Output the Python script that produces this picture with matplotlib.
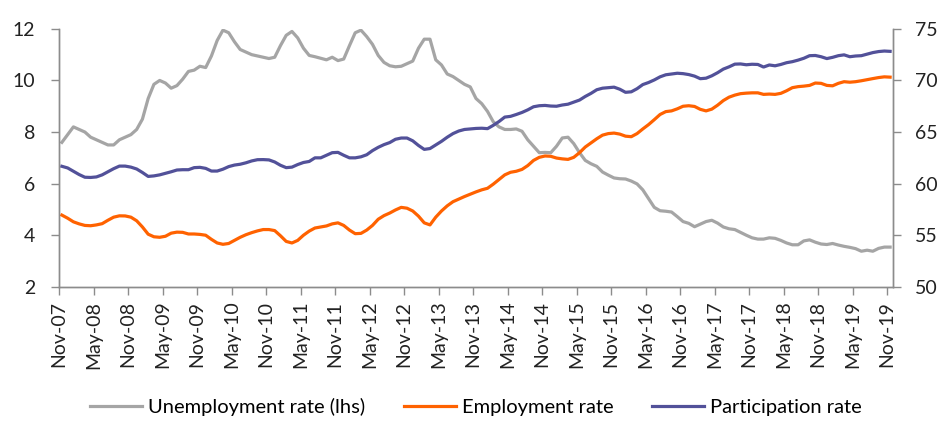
import matplotlib
matplotlib.use("Agg")
import matplotlib.pyplot as plt
import numpy as np

plt.rcParams['font.family'] = ['Lato', 'DejaVu Sans']

# monthly data, Nov-07 .. Nov-19
tick_labels = ["Nov-07", "May-08", "Nov-08", "May-09", "Nov-09", "May-10", "Nov-10",
               "May-11", "Nov-11", "May-12", "Nov-12", "May-13", "Nov-13", "May-14",
               "Nov-14", "May-15", "Nov-15", "May-16", "Nov-16", "May-17", "Nov-17",
               "May-18", "Nov-18", "May-19", "Nov-19"]

unemployment = [
    7.6, 7.9, 8.2, 8.1, 8.0, 7.8, 7.7, 7.6, 7.5, 7.5,
    7.7, 7.8, 7.9, 8.1, 8.5, 9.3, 9.85, 10.0, 9.9, 9.7,
    9.8, 10.05, 10.35, 10.4, 10.55, 10.5, 10.95, 11.55, 11.95, 11.85,
    11.5, 11.2, 11.1, 11.0, 10.95, 10.9, 10.85, 10.9, 11.35, 11.75,
    11.9, 11.65, 11.25, 10.97, 10.92, 10.86, 10.8, 10.9, 10.77, 10.83,
    11.35, 11.85, 11.95, 11.7, 11.4, 10.97, 10.7, 10.57, 10.53, 10.55,
    10.65, 10.75, 11.25, 11.6, 11.6, 10.8, 10.6, 10.25, 10.15, 10.0,
    9.85, 9.75, 9.3, 9.1, 8.8, 8.4, 8.2, 8.1, 8.1, 8.12,
    8.03, 7.7, 7.45, 7.2, 7.21, 7.2, 7.45, 7.77, 7.8, 7.55,
    7.2, 6.9, 6.77, 6.67, 6.45, 6.33, 6.22, 6.19, 6.18, 6.1,
    5.99, 5.76, 5.42, 5.08, 4.95, 4.93, 4.9, 4.72, 4.53, 4.46,
    4.33, 4.43, 4.53, 4.58, 4.47, 4.32, 4.25, 4.22, 4.11, 4.0,
    3.9, 3.85, 3.85, 3.9, 3.88, 3.8, 3.7, 3.63, 3.63, 3.78,
    3.82, 3.73, 3.66, 3.64, 3.68, 3.62, 3.57, 3.53, 3.48, 3.38,
    3.42, 3.38, 3.49, 3.54, 3.54,
]

employment = [
    56.95, 56.65, 56.3, 56.1, 55.95, 55.92, 56.0, 56.12, 56.45, 56.75,
    56.88, 56.87, 56.75, 56.4, 55.8, 55.1, 54.85, 54.8, 54.9, 55.2,
    55.3, 55.28, 55.12, 55.12, 55.08, 55.0, 54.6, 54.25, 54.12, 54.2,
    54.5, 54.8, 55.05, 55.25, 55.42, 55.55, 55.55, 55.45, 54.95, 54.4,
    54.25, 54.5, 55.0, 55.4, 55.7, 55.8, 55.9, 56.1, 56.2, 55.95,
    55.5, 55.15, 55.18, 55.5, 55.95, 56.55, 56.9, 57.15, 57.45, 57.7,
    57.62, 57.35, 56.85, 56.2, 56.0, 56.75, 57.35, 57.85, 58.25, 58.5,
    58.75, 58.98, 59.2, 59.4, 59.55, 59.95, 60.4, 60.85, 61.1, 61.2,
    61.38, 61.75, 62.25, 62.55, 62.68, 62.65, 62.48, 62.4, 62.35, 62.55,
    63.0, 63.55, 63.95, 64.35, 64.7, 64.85, 64.9, 64.8, 64.6, 64.55,
    64.85, 65.3, 65.72, 66.2, 66.7, 66.98, 67.05, 67.25, 67.5, 67.55,
    67.48, 67.2, 67.05, 67.22, 67.6, 68.05, 68.38, 68.58, 68.72, 68.77,
    68.8, 68.8, 68.65, 68.68, 68.65, 68.75, 69.0, 69.3, 69.4, 69.45,
    69.52, 69.75, 69.72, 69.52, 69.48, 69.72, 69.88, 69.83, 69.88, 69.97,
    70.08, 70.18, 70.28, 70.35, 70.32,
]

participation = [
    61.68, 61.52, 61.2, 60.88, 60.62, 60.6, 60.65, 60.85, 61.15, 61.45,
    61.7, 61.7, 61.6, 61.42, 61.08, 60.7, 60.75, 60.85, 61.0, 61.15,
    61.32, 61.35, 61.35, 61.55, 61.58, 61.48, 61.22, 61.22, 61.4, 61.65,
    61.8, 61.88, 62.02, 62.2, 62.32, 62.33, 62.3, 62.1, 61.78, 61.55,
    61.6, 61.85, 62.05, 62.15, 62.5, 62.5, 62.75, 63.0, 63.03, 62.75,
    62.5, 62.5, 62.6, 62.8, 63.2, 63.52, 63.78, 63.98, 64.3, 64.42,
    64.42, 64.15, 63.7, 63.32, 63.4, 63.75, 64.1, 64.5, 64.85, 65.1,
    65.25, 65.3, 65.35, 65.37, 65.33, 65.65, 66.02, 66.45, 66.52, 66.7,
    66.9, 67.15, 67.45, 67.55, 67.58, 67.52, 67.5, 67.62, 67.7, 67.9,
    68.1, 68.45, 68.75, 69.1, 69.25, 69.3, 69.35, 69.15, 68.85, 68.9,
    69.2, 69.6, 69.8, 70.05, 70.35, 70.55, 70.62, 70.7, 70.66, 70.57,
    70.42, 70.17, 70.22, 70.45, 70.75, 71.1, 71.32, 71.58, 71.6, 71.52,
    71.57, 71.55, 71.3, 71.5, 71.42, 71.55, 71.72, 71.82, 71.97, 72.15,
    72.4, 72.42, 72.3, 72.12, 72.24, 72.4, 72.48, 72.3, 72.37, 72.4,
    72.55, 72.7, 72.8, 72.85, 72.82,
]

GREY = "#a5a5a5"
ORANGE = "#ff6200"
INDIGO = "#525199"
AXIS = "#8c8c8c"

n = len(unemployment)
x = np.arange(n) + 0.5  # points sit between month ticks

fig = plt.figure(figsize=(9.52, 4.44), dpi=100)
ax = fig.add_axes([0.062, 0.354, 0.876, 0.581])
ax2 = ax.twinx()

l1, = ax.plot(x, unemployment, color=GREY, lw=2.3, label="Unemployment rate (lhs)")
l2, = ax2.plot(x, employment, color=ORANGE, lw=2.3, label="Employment rate")
l3, = ax2.plot(x, participation, color=INDIGO, lw=2.3, label="Participation rate")

ax.set_xlim(0, n)
ax.set_ylim(2, 12)
ax.set_yticks(range(2, 13, 2))
ax2.set_ylim(50, 75)
ax2.set_yticks(range(50, 76, 5))
ax.set_xticks(np.arange(0, n, 6))
ax.set_xticklabels(tick_labels, rotation=90)

for a in (ax, ax2):
    a.spines["top"].set_visible(False)
    for s in ("left", "right", "bottom"):
        a.spines[s].set_color(AXIS)
        a.spines[s].set_linewidth(1.0)
    a.tick_params(colors=AXIS, labelcolor="#222222", labelsize=14, length=6, width=1.0)
ax.tick_params(axis="x", labelsize=14, length=6, pad=4)
ax.tick_params(axis="y", pad=11)
ax2.tick_params(axis="y", pad=10)

fig.legend(handles=[l1, l2, l3], loc="center", bbox_to_anchor=(0.5, 0.083), ncol=3,
           frameon=False, fontsize=14.5, handlelength=2.6, handletextpad=0.3,
           columnspacing=1.9)

fig.savefig("out.png", dpi=100)
